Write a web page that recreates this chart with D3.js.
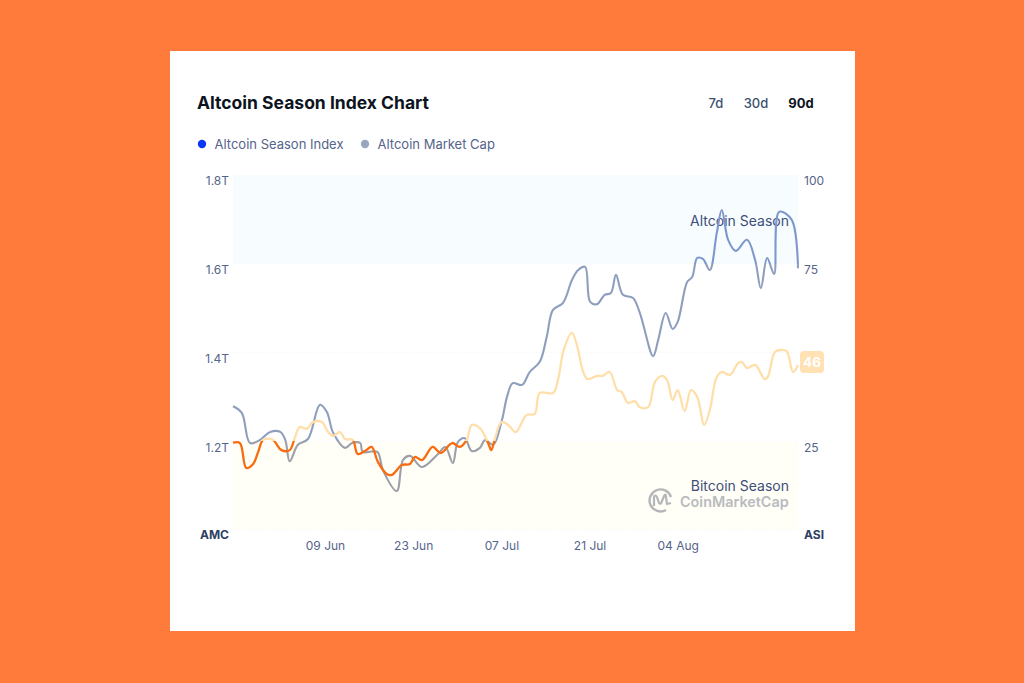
<!DOCTYPE html>
<html>
<head>
<meta charset="utf-8">
<script src="https://cdn.jsdelivr.net/npm/d3@7"></script>
<style>
html, body { margin: 0; padding: 0; background: #ff7b3b; }
svg { display: block; font-family: Inter, "Noto Sans", sans-serif; }
.axis path, .axis line { display: none; }
.axis text { font-size: 12px; fill: #55648a; font-family: Inter, sans-serif; }
</style>
</head>
<body>
<svg id="chart" width="1024" height="683"></svg>
<script>
// days since the start of the window
var indexDays = [0,1.1,2.1,3.2,4.0,4.8,6.3,7.7,9.0,9.8,10.6,11.7,12.7,14.1,15.1,15.9,17.0,17.8,19.0,19.8,21.0,22.0,23.0,24.4,25.2,26.8,28.1,28.9,30.0,31.7,33.0,34.8,36.0,37.1,37.9,39.2,40.5,41.0,41.6,42.6,43.7,44.9,46.6,47.9,48.7,50.8,51.6,52.5,53.8,54.6,55.6,56.3,57.8,58.7,59.8,61.0,61.7,62.7,63.8,64.6,65.9,67.0,68.1,68.9,69.8,70.6,71.7,72.7,73.7,74.8,75.7,76.8,77.6,78.9,80.2,80.8,81.6,82.9,84.4,84.9,86.0,86.8,87.9,88.9,89.7];
var indexValues = [24.6,24.5,17.5,18.6,22.0,25.4,25.4,22.5,22.5,25.9,29.0,28.5,30.4,30.4,27.6,26.5,27.6,25.6,25.4,21.4,22.3,23.4,19.2,15.8,15.5,18.3,18.6,20.6,19.7,23.4,21.7,24.5,23.4,25.4,29.6,28.7,24.5,22.5,25.9,30.4,29.6,27.6,32.4,32.7,38.6,38.6,42.3,50.7,55.5,52.1,44.5,42.5,43.4,43.4,44.5,39.4,38.9,35.8,36.3,34.6,34.6,41.7,43.4,42.3,36.6,39.4,33.5,39.4,37.5,29.6,33.8,43.1,44.5,43.7,47.0,47.3,45.6,46.5,42.5,43.1,50.1,50.7,50.4,44.5,46.5];

var capDays = [0,1.4,2.7,4.3,5.9,7.5,8.3,9.0,10.3,11.9,13.8,14.9,15.9,17.8,18.9,20.2,20.6,22.9,23.8,26.0,27.0,28.1,30.0,32.4,33.7,34.9,35.7,36.8,37.9,39.2,40.0,41.3,42.7,43.5,44.4,45.9,47.1,48.7,49.8,50.8,52.4,53.8,54.8,55.9,56.7,57.8,59.0,60.0,60.8,61.9,63.5,64.6,66.7,67.5,68.7,69.8,70.6,72.1,72.9,73.7,74.6,75.7,76.8,77.6,78.6,79.8,81.6,82.9,83.8,84.8,85.9,86.7,88.7,89.7];
var capValues = [1.279,1.264,1.196,1.203,1.221,1.221,1.203,1.155,1.192,1.205,1.282,1.266,1.219,1.185,1.196,1.196,1.176,1.176,1.135,1.088,1.158,1.167,1.142,1.169,1.187,1.151,1.198,1.207,1.178,1.185,1.203,1.192,1.248,1.300,1.331,1.327,1.356,1.379,1.435,1.496,1.512,1.563,1.586,1.593,1.514,1.509,1.530,1.534,1.575,1.530,1.523,1.489,1.392,1.428,1.489,1.453,1.469,1.559,1.570,1.613,1.611,1.586,1.669,1.721,1.654,1.629,1.654,1.608,1.545,1.613,1.577,1.717,1.699,1.590];

var leftTicks = [1.2, 1.4, 1.6, 1.8];
var rightTicks = [25, 75, 100];
var dateTicks = [new Date(Date.UTC(2021,5,9)), new Date(Date.UTC(2021,5,23)), new Date(Date.UTC(2021,6,7)), new Date(Date.UTC(2021,6,21)), new Date(Date.UTC(2021,7,4))];
var ranges = ["7d", "30d", "90d"];
var legendNames = ["Altcoin Season Index", "Altcoin Market Cap"];
var latestIndex = 46;

var start = Date.UTC(2021,4,25,9,30);
var dayMs = 86400000;

var svg = d3.select("#chart");

var x = d3.scaleTime().domain([new Date(start), new Date(start + 89.7 * dayMs)]).range([233, 798]);
var yIndex = d3.scaleLinear().domain([0, 100]).range([530, 175]);
var yCap = d3.scaleLinear().domain([1.0, 1.8]).range([530, 175]);

function dayX(d) { return x(new Date(start + d * dayMs)); }

// carte blanche
svg.append("rect").attr("x",170).attr("y",51).attr("width",685).attr("height",580).attr("fill","#fff");

// titre
svg.append("text").attr("x",197).attr("y",109).attr("font-size",17.5).attr("font-weight",700)
	.attr("fill","#0d1421").text("Altcoin Season Index Chart");

// boutons
var rangeX = [716, 756, 801];
ranges.forEach(function(r, i){
	svg.append("text").attr("x",rangeX[i]).attr("y",108).attr("text-anchor","middle")
		.attr("font-size",13).attr("font-weight", i == 2 ? 700 : 500)
		.attr("fill", i == 2 ? "#0d1421" : "#3d4f6e").text(r);
});

// legende
var legendColors = ["#0a36f5", "#98a6c2"];
var legendX = [202, 365];
legendNames.forEach(function(n, i){
	svg.append("circle").attr("cx",legendX[i]).attr("cy",144).attr("r",4.2).attr("fill",legendColors[i]);
	svg.append("text").attr("x",legendX[i]+12.5).attr("y",148.5).attr("font-size",13)
		.attr("fill","#55648a").text(n);
});

// zones
svg.append("rect").attr("x",233).attr("width",565).attr("y",yIndex(100)).attr("height",yIndex(75)-yIndex(100)).attr("fill","#f7fcff");
svg.append("rect").attr("x",233).attr("width",565).attr("y",yIndex(25)).attr("height",yIndex(0)-yIndex(25)).attr("fill","#fffef7");
[75, 50, 25, 0].forEach(function(v){
	svg.append("line").attr("x1",233).attr("x2",798).attr("y1",yIndex(v)).attr("y2",yIndex(v))
		.attr("stroke","#f5f6f8").attr("stroke-dasharray","1 2");
});

svg.append("text").attr("x",789).attr("y",226).attr("text-anchor","end").attr("font-size",14)
	.attr("fill","#3f4f78").text("Altcoin Season");
svg.append("text").attr("x",789).attr("y",491).attr("text-anchor","end").attr("font-size",14)
	.attr("fill","#3f4f78").text("Bitcoin Season");

// logo
var logo = svg.append("g").attr("fill","none").attr("stroke","#b4b6ba").attr("stroke-width",2.4);
logo.append("path").attr("d","M666 510 A11 11 0 1 1 671 497");
logo.append("path").attr("stroke-width",2.2).attr("stroke-linejoin","round").attr("d","M654 506 L654 497 Q655 494 657 497 L659 503 Q661 505 662 501 L664 496 Q666 493 666 497 L667 504 L671 503");
svg.append("text").attr("x",680).attr("y",507).attr("font-size",14.4).attr("font-weight",600)
	.attr("fill","#b9bbbf").text("CoinMarketCap");

// axes
svg.append("g").attr("class","axis").attr("transform","translate(229,6)")
	.call(d3.axisLeft(yCap).tickValues(leftTicks).tickSize(0).tickPadding(0).tickFormat(function(d){ return d.toFixed(1) + "T"; }));
svg.append("g").attr("class","axis").attr("transform","translate(804,6)")
	.call(d3.axisRight(yIndex).tickValues(rightTicks).tickSize(0).tickPadding(0));
svg.append("g").attr("class","axis").attr("transform","translate(0,541)")
	.call(d3.axisBottom(x).tickValues(dateTicks).tickSize(0).tickPadding(0).tickFormat(d3.utcFormat("%d %b")));

svg.append("text").attr("x",229).attr("y",539).attr("text-anchor","end").attr("font-size",12).attr("font-weight",700).attr("fill","#2f3f63").text("AMC");
svg.append("text").attr("x",804).attr("y",539).attr("font-size",12).attr("font-weight",700).attr("fill","#2f3f63").text("ASI");

// degrades : couleur selon la zone
function bandGradient(id, top, mid, low) {
	var g = svg.append("defs").append("linearGradient").attr("id",id)
		.attr("gradientUnits","userSpaceOnUse").attr("x1",0).attr("x2",0)
		.attr("y1",yIndex(100)).attr("y2",yIndex(0));
	[[0,top],[0.25,top],[0.25,mid],[0.75,mid],[0.75,low],[1,low]].forEach(function(s){
		g.append("stop").attr("offset",s[0]).attr("stop-color",s[1]);
	});
}
bandGradient("capGrad", "#7f97cc", "#8e9fbe", "#9d9fa9");
bandGradient("indexGrad", "#b9cbf5", "#ffdfa9", "#f96b0f");

var capLine = d3.line().x(function(d){ return dayX(d[0]); }).y(function(d){ return yCap(d[1]); }).curve(d3.curveCatmullRom.alpha(0.5));
var indexLine = d3.line().x(function(d){ return dayX(d[0]); }).y(function(d){ return yIndex(d[1]); }).curve(d3.curveCatmullRom.alpha(0.5));

svg.append("path").datum(d3.zip(capDays, capValues)).attr("d",capLine)
	.attr("fill","none").attr("stroke","url(#capGrad)").attr("stroke-width",2.1);
svg.append("path").datum(d3.zip(indexDays, indexValues)).attr("d",indexLine)
	.attr("fill","none").attr("stroke","url(#indexGrad)").attr("stroke-width",2.3);

// badge valeur
svg.append("rect").attr("x",800).attr("y",351).attr("width",24).attr("height",22).attr("rx",4).attr("fill","#ffe1b3");
svg.append("text").attr("x",812).attr("y",366.5).attr("text-anchor","middle").attr("font-size",13.5).attr("font-weight",700)
	.attr("fill","#fff").text(latestIndex);
</script>
</body>
</html>
